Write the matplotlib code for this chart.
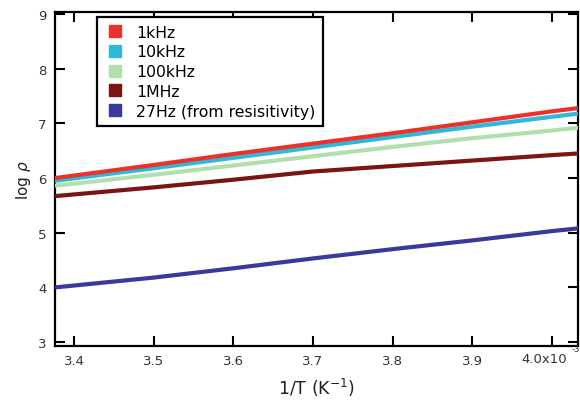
import matplotlib
matplotlib.use("Agg")
import matplotlib.pyplot as plt
from matplotlib.lines import Line2D

x = [3.376, 3.5, 3.6, 3.7, 3.8, 3.9, 4.0, 4.033]
rho_1k = [6.00, 6.24, 6.44, 6.63, 6.82, 7.02, 7.22, 7.28]
rho_10k = [5.95, 6.18, 6.37, 6.56, 6.75, 6.94, 7.12, 7.18]
rho_100k = [5.86, 6.06, 6.23, 6.40, 6.57, 6.73, 6.87, 6.92]
rho_1M = [5.67, 5.83, 5.97, 6.12, 6.22, 6.32, 6.42, 6.45]
rho_27 = [4.00, 4.18, 4.35, 4.53, 4.70, 4.86, 5.03, 5.08]

labels = ["1kHz", "10kHz", "100kHz", "1MHz", "27Hz (from resisitivity)"]
colors = ["#e8322c", "#2fb8da", "#b2dfae", "#7d1414", "#3b3a9c"]
series = [rho_1k, rho_10k, rho_100k, rho_1M, rho_27]

xticks = [3.4, 3.5, 3.6, 3.7, 3.8, 3.9, 4.0]
xticklabels = ["3.4", "3.5", "3.6", "3.7", "3.8", "3.9", ""]
yticks = [3, 4, 5, 6, 7, 8, 9]

fig = plt.figure(figsize=(5.8, 4.02), dpi=100)
ax = fig.add_axes([0.0948, 0.137, 0.902, 0.831])

order = [2, 1, 0, 3, 4]
for i in order:
    ax.plot(x, series[i], color=colors[i], lw=3.0, solid_capstyle="butt", zorder=3 + (i == 0))

ax.set_xlim(3.376, 4.033)
ax.set_ylim(2.93, 9.04)
ax.set_xticks(xticks)
ax.set_xticklabels(xticklabels, fontsize=9.5, color="#333333")
ax.set_yticks(yticks)
ax.set_yticklabels([str(v) for v in yticks], fontsize=9.5, color="#333333")
ax.tick_params(direction="in", length=7, width=1.5, top=True, right=True, pad=6)
for s in ax.spines.values():
    s.set_linewidth(1.6)

fig.text(544 / 580, 1 - 360 / 402, "4.0x10", fontsize=9.5, color="#333333", ha="center", va="center")
fig.text(572 / 580, 1 - 350 / 402, "-3", fontsize=6, color="#333333", ha="left", va="center")

ax.set_xlabel("1/T (K$^{-1}$)", fontsize=12.5, color="#222222", labelpad=6)
ax.set_ylabel(r"log $\rho$", fontsize=11, color="#222222", labelpad=4)

handles = [Line2D([], [], marker="s", ls="none", color=c, markersize=8) for c in colors]
leg = ax.legend(handles, labels, loc="upper left", bbox_to_anchor=(0.080, 0.985), frameon=True,
                fancybox=False, edgecolor="black", fontsize=11.3, handletextpad=0.7,
                labelspacing=0.3, borderpad=0.5, handlelength=1.3, framealpha=1,
                borderaxespad=0)
leg.get_frame().set_linewidth(1.6)

fig.savefig("out.png", dpi=100)
